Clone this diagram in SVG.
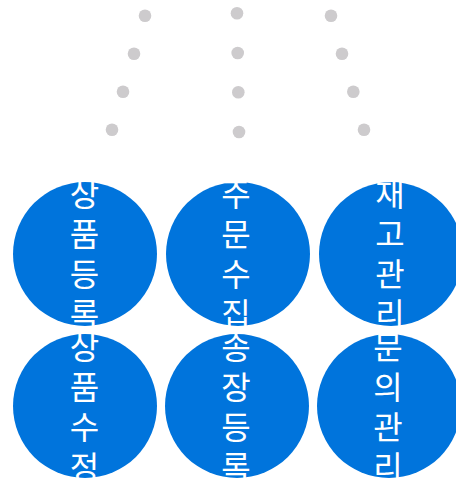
<svg xmlns="http://www.w3.org/2000/svg" width="456" height="479" viewBox="0 0 456 479">
<style>
.dot{fill:#cdcbcd}
.node circle{fill:#0074dc}
.node text{fill:#ffffff;font-family:"Noto Sans CJK KR","Noto Sans",sans-serif;font-size:32px;text-anchor:middle}
</style>
<rect width="456" height="479" fill="#ffffff"/>
<g id="connectors">
<circle class="dot" cx="145" cy="15.7" r="6.3"/>
<circle class="dot" cx="134" cy="53.7" r="6.3"/>
<circle class="dot" cx="123" cy="91.7" r="6.3"/>
<circle class="dot" cx="112" cy="129.7" r="6.3"/>
<circle class="dot" cx="237" cy="13.3" r="6.3"/>
<circle class="dot" cx="237.7" cy="53" r="6.3"/>
<circle class="dot" cx="238.3" cy="92.3" r="6.3"/>
<circle class="dot" cx="239" cy="132" r="6.3"/>
<circle class="dot" cx="331" cy="15.7" r="6.3"/>
<circle class="dot" cx="342" cy="53.7" r="6.3"/>
<circle class="dot" cx="353.3" cy="91.7" r="6.3"/>
<circle class="dot" cx="364" cy="129.7" r="6.3"/>
</g>
<g id="node1" class="node">
<circle cx="85" cy="254" r="72"/>
<text x="84.5" y="206"><tspan x="84.5">상</tspan><tspan x="84.5" dy="40">품</tspan><tspan x="84.5" dy="40">등</tspan><tspan x="84.5" dy="40">록</tspan></text>
</g>
<g id="node2" class="node">
<circle cx="238" cy="254" r="72"/>
<text x="236" y="206"><tspan x="236">주</tspan><tspan x="236" dy="40">문</tspan><tspan x="236" dy="40">수</tspan><tspan x="236" dy="40">집</tspan></text>
</g>
<g id="node3" class="node">
<circle cx="391" cy="254" r="72"/>
<text x="390" y="206"><tspan x="390">재</tspan><tspan x="390" dy="40">고</tspan><tspan x="390" dy="40">관</tspan><tspan x="390" dy="40">리</tspan></text>
</g>
<g id="node4" class="node">
<circle cx="85" cy="406" r="72"/>
<text x="84.5" y="359"><tspan x="84.5">상</tspan><tspan x="84.5" dy="40">품</tspan><tspan x="84.5" dy="40">수</tspan><tspan x="84.5" dy="40">정</tspan></text>
</g>
<g id="node5" class="node">
<circle cx="237" cy="406" r="72"/>
<text x="236" y="359"><tspan x="236">송</tspan><tspan x="236" dy="40">장</tspan><tspan x="236" dy="40">등</tspan><tspan x="236" dy="40">록</tspan></text>
</g>
<g id="node6" class="node">
<circle cx="389" cy="406" r="72"/>
<text x="388" y="359"><tspan x="388">문</tspan><tspan x="388" dy="40">의</tspan><tspan x="388" dy="40">관</tspan><tspan x="388" dy="40">리</tspan></text>
</g>
</svg>
